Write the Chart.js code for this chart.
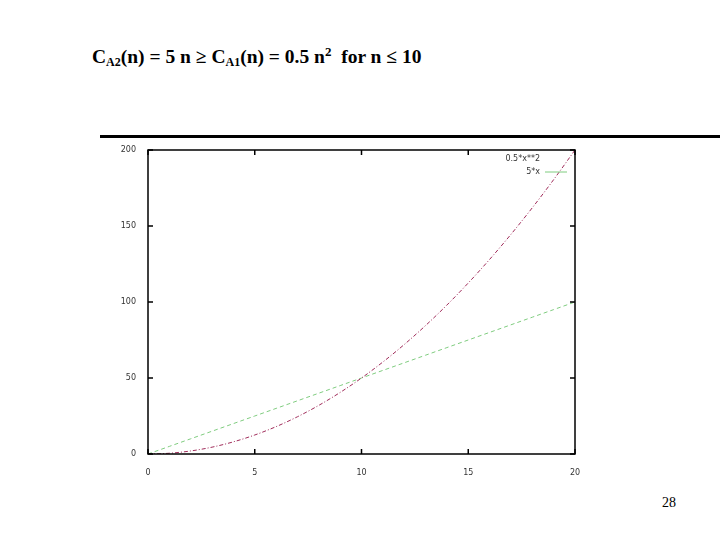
<!DOCTYPE html>
<html>
<head>
<meta charset="utf-8">
<script src="https://cdn.jsdelivr.net/npm/chart.js@4"></script>
<style>
  body { margin: 0; width: 720px; height: 540px; background: #fff; position: relative; overflow: hidden; }
  #title { position: absolute; left: 92px; top: 44px; font: bold 19.5px "Liberation Serif", serif; color: #000; white-space: nowrap; }
  #title sub { font-size: 12px; vertical-align: -3px; }
  #title sup { font-size: 13px; vertical-align: 7px; }
  #rule { position: absolute; left: 100px; top: 135px; width: 620px; height: 3px; background: #000; }
  #page { position: absolute; left: 662px; top: 495px; font: 14px "Liberation Serif", serif; color: #000; }
  #wrap { position: absolute; left: 100px; top: 140px; width: 500px; height: 340px; }
</style>
</head>
<body>
<div id="title">C<sub>A2</sub>(n) = 5 n &ge; C<sub>A1</sub>(n) = 0.5 n<sup>2</sup>&nbsp; for n &le; 10</div>
<div id="rule"></div>
<div id="wrap"><canvas id="myChart" width="500" height="340"></canvas></div>
<div id="page">28</div>
<script>
// n from 0 to 20
const nValues = [0, 1, 2, 3, 4, 5, 6, 7, 8, 9, 10, 11, 12, 13, 14, 15, 16, 17, 18, 19, 20];
const quadValues = [0, 0.5, 2, 4.5, 8, 12.5, 18, 24.5, 32, 40.5, 50, 60.5, 72, 84.5, 98, 112.5, 128, 144.5, 162, 180.5, 200];
const linValues = [0, 5, 10, 15, 20, 25, 30, 35, 40, 45, 50, 55, 60, 65, 70, 75, 80, 85, 90, 95, 100];
const xTicks = [0, 5, 10, 15, 20];
const yTicks = [0, 50, 100, 150, 200];
const seriesNames = ['0.5*x**2', '5*x'];

const redColor = '#a02c5a';
const greenColor = '#7fcc7f';

function pts(ys) {
    return nValues.map((n, i) => ({ x: n, y: ys[i] }));
}

// box + mirrored inside ticks, like gnuplot
const framePlugin = {
    id: 'frame',
    afterDatasetsDraw(chart) {
        const c = chart.ctx, a = chart.chartArea;
        const xs = chart.scales.x, ys = chart.scales.y;
        c.save();
        c.strokeStyle = '#000';
        c.lineWidth = 1.5;
        c.strokeRect(a.left, a.top, a.right - a.left, a.bottom - a.top);
        c.beginPath();
        xTicks.forEach(v => {
            const px = xs.getPixelForValue(v);
            c.moveTo(px, a.bottom); c.lineTo(px, a.bottom - 5);
            c.moveTo(px, a.top); c.lineTo(px, a.top + 5);
        });
        yTicks.forEach(v => {
            const py = ys.getPixelForValue(v);
            c.moveTo(a.left, py); c.lineTo(a.left + 5, py);
            c.moveTo(a.right, py); c.lineTo(a.right - 5, py);
        });
        c.stroke();
        // legend inside, top right
        c.font = '8px "DejaVu Sans", sans-serif';
        c.fillStyle = '#333';
        c.textAlign = 'right';
        c.textBaseline = 'middle';
        c.fillText(seriesNames[0], a.right - 35, a.top + 9);
        c.fillText(seriesNames[1], a.right - 35, a.top + 22);
        c.strokeStyle = greenColor;
        c.lineWidth = 1;
        c.beginPath();
        c.moveTo(a.right - 30, a.top + 22); c.lineTo(a.right - 8, a.top + 22);
        c.stroke();
        c.restore();
    }
};

const ctx = document.getElementById('myChart');
const myChart = new Chart(ctx, {
    type: 'line',
    data: {
        datasets: [{
            label: seriesNames[0],
            data: pts(quadValues),
            borderColor: redColor,
            borderWidth: 1,
            borderDash: [4, 2, 1, 2],
            pointRadius: 0,
            cubicInterpolationMode: 'monotone'
        }, {
            label: seriesNames[1],
            data: pts(linValues),
            borderColor: greenColor,
            borderWidth: 1,
            borderDash: [4, 3],
            pointRadius: 0
        }]
    },
    options: {
        responsive: false,
        maintainAspectRatio: false,
        animation: false,
        layout: { padding: { top: 10, right: 25, left: 0, bottom: 0 } },
        plugins: { legend: { display: false }, tooltip: { enabled: false } },
        scales: {
            x: {
                type: 'linear', min: 0, max: 20,
                afterBuildTicks: s => { s.ticks = xTicks.map(v => ({ value: v })); },
                afterFit: s => { s.height = 26; },
                grid: { display: false },
                border: { display: false },
                ticks: { font: { size: 8, family: 'DejaVu Sans' }, color: '#333', padding: 6 }
            },
            y: {
                type: 'linear', min: 0, max: 200,
                afterBuildTicks: s => { s.ticks = yTicks.map(v => ({ value: v })); },
                afterFit: s => { s.width = 48; },
                grid: { display: false },
                border: { display: false },
                ticks: { font: { size: 8, family: 'DejaVu Sans' }, color: '#333', padding: 4 }
            }
        }
    },
    plugins: [framePlugin]
});
</script>
</body>
</html>
